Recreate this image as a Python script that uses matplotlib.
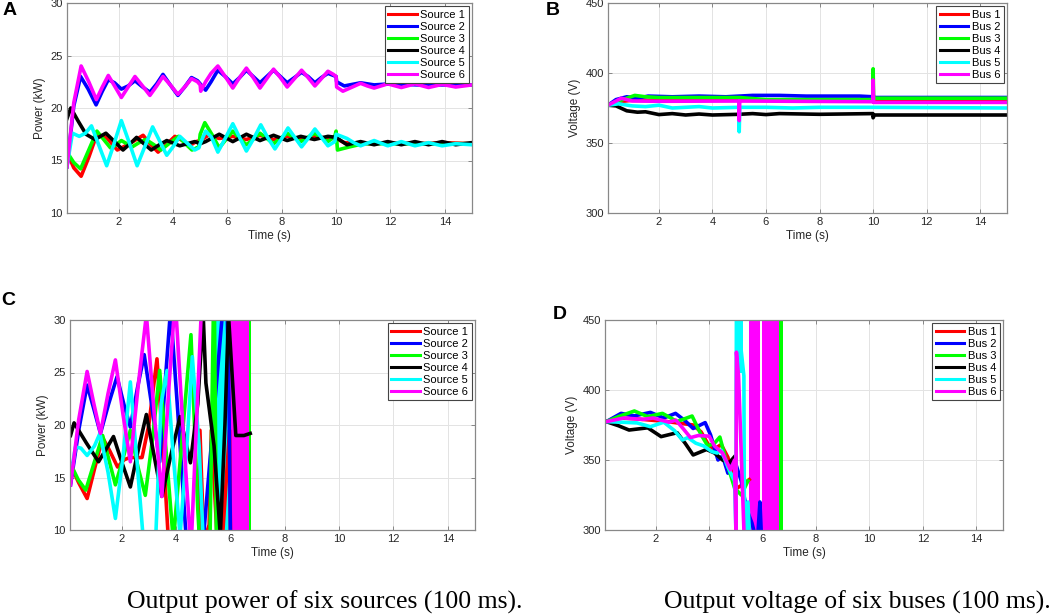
import matplotlib
matplotlib.use("Agg")
import matplotlib.pyplot as plt

plt.rcParams["font.family"] = ["Liberation Sans", "DejaVu Sans"]

# ---------------- data ----------------
colors = ["#ff0000", "#0000ff", "#00ff00", "#000000", "#00ffff", "#ff00ff"]
source_labels = ["Source 1", "Source 2", "Source 3", "Source 4", "Source 5", "Source 6"]
bus_labels = ["Bus 1", "Bus 2", "Bus 3", "Bus 4", "Bus 5", "Bus 6"]

# panel A: output power, stable case (kW)
a_t1 = [0.1, 0.35, 0.62, 0.9, 1.2, 1.55, 1.95, 2.4, 2.9, 3.15, 3.45, 3.75, 4.07, 4.35, 4.6, 4.85,
        5.0, 5.3, 5.7, 6.2, 6.7, 7.2, 7.7, 8.2, 8.7, 9.2, 9.7, 10.0, 10.3, 11.0, 12.0, 13.0, 14.0, 15.0]
a_p1 = [15.8, 14.3, 13.5, 15.3, 17.5, 17.2, 16.0, 16.6, 17.4, 16.6, 15.8, 16.5, 17.3, 16.9, 16.4, 16.8,
        16.9, 17.4, 17.1, 17.3, 17.0, 17.4, 17.0, 17.3, 17.0, 17.3, 17.1, 17.1, 16.7, 16.6, 16.7, 16.6, 16.7, 16.6]
a_t2 = [0.1, 0.35, 0.6, 0.88, 1.17, 1.4, 1.62, 1.85, 2.1, 2.35, 2.6, 2.88, 3.15, 3.4, 3.63, 3.9, 4.18,
        4.43, 4.68, 4.9, 5.0, 5.2, 5.4, 5.65, 5.92, 6.2, 6.45, 6.7, 6.95, 7.2, 7.45, 7.7, 7.95, 8.2, 8.47,
        8.73, 8.97, 9.22, 9.46, 9.7, 9.9, 10.0, 10.02, 10.3, 10.9, 11.4, 12.0, 13.0, 14.0, 15.0]
a_p2 = [14.4, 20.2, 23.0, 21.8, 20.3, 21.6, 22.7, 22.4, 21.8, 22.1, 22.6, 22.0, 21.5, 22.3, 23.2, 22.2, 21.2,
        22.0, 22.9, 22.6, 22.3, 21.7, 22.5, 23.6, 23.0, 22.3, 22.9, 23.6, 23.0, 22.4, 23.0, 23.6, 23.0, 22.4, 22.9,
        23.4, 23.0, 22.4, 22.9, 23.3, 23.1, 23.0, 22.5, 22.1, 22.4, 22.2, 22.3, 22.2, 22.2, 22.2]
a_t3 = [0.1, 0.35, 0.6, 0.9, 1.2, 1.45, 1.7, 1.9, 2.1, 2.3, 2.5, 2.75, 3.0, 3.3, 3.55, 3.85, 4.2, 4.45,
        4.7, 4.95, 5.0, 5.17, 5.45, 5.7, 5.95, 6.2, 6.45, 6.7, 6.95, 7.2, 7.45, 7.7, 7.95, 8.2, 8.45, 8.7,
        8.95, 9.2, 9.45, 9.7, 9.95, 10.0, 10.05, 10.5, 11.0, 12.0, 13.0, 14.0, 15.0]
a_p3 = [15.8, 14.8, 14.2, 16.0, 17.8, 17.0, 16.2, 16.5, 16.9, 16.6, 16.3, 16.7, 17.0, 16.5, 16.0, 16.6, 17.3, 16.6,
        16.0, 16.3, 17.5, 18.6, 17.4, 16.2, 17.0, 17.8, 17.1, 16.5, 17.0, 17.6, 17.1, 16.6, 17.1, 17.6, 17.2, 16.8,
        17.2, 17.6, 17.2, 16.8, 17.3, 17.8, 16.0, 16.3, 16.6, 16.6, 16.6, 16.6, 16.6]
a_t4 = [0.1, 0.24, 0.5, 0.8, 1.13, 1.53, 1.85, 2.16, 2.42, 2.66, 2.93, 3.2, 3.5, 3.77, 4.25, 4.8, 5.0, 5.2,
        5.7, 6.2, 6.7, 7.2, 7.7, 8.2, 8.7, 9.2, 9.7, 10.0, 10.4, 10.9, 11.4, 11.9, 12.4, 12.9, 13.4, 13.9, 14.4, 15.0]
a_p4 = [19.0, 20.0, 18.8, 17.5, 17.0, 17.6, 16.8, 16.0, 16.6, 17.2, 16.6, 16.0, 16.5, 16.9, 16.4, 16.8, 16.6, 16.8,
        17.5, 16.8, 17.5, 16.9, 17.4, 16.9, 17.3, 17.0, 17.3, 17.2, 16.5, 16.8, 16.5, 16.8, 16.5, 16.8, 16.5, 16.8, 16.5, 16.7]
a_t5 = [0.1, 0.3, 0.55, 0.78, 1.0, 1.28, 1.56, 1.83, 2.1, 2.39, 2.68, 2.96, 3.25, 3.5, 3.77, 4.0, 4.25, 4.5,
        4.8, 4.95, 5.0, 5.2, 5.42, 5.65, 5.92, 6.2, 6.45, 6.7, 6.97, 7.23, 7.48, 7.75, 8.0, 8.23, 8.48, 8.73,
        8.97, 9.22, 9.46, 9.7, 9.95, 10.0, 10.4, 10.65, 10.9, 11.4, 11.9, 12.4, 12.9, 13.4, 13.9, 14.4, 15.0]
a_p5 = [14.5, 17.6, 17.3, 17.6, 18.3, 16.4, 14.5, 16.6, 18.8, 16.7, 14.5, 16.3, 18.2, 16.9, 15.5, 16.3, 17.3, 16.7,
        16.0, 16.2, 16.6, 17.8, 17.2, 15.8, 17.1, 18.5, 17.2, 15.9, 17.1, 18.4, 17.2, 16.1, 17.1, 18.1, 17.2, 16.3,
        17.1, 18.0, 17.2, 16.4, 16.8, 17.5, 17.1, 16.7, 16.4, 16.9, 16.4, 16.8, 16.4, 16.7, 16.4, 16.6, 16.5]
a_t6 = [0.1, 0.35, 0.62, 0.9, 1.18, 1.4, 1.62, 1.85, 2.1, 2.35, 2.6, 2.88, 3.15, 3.4, 3.63, 3.9, 4.18, 4.43,
        4.68, 4.9, 5.0, 5.02, 5.2, 5.4, 5.65, 5.92, 6.2, 6.45, 6.7, 6.95, 7.2, 7.45, 7.7, 7.95, 8.2, 8.47, 8.73,
        8.97, 9.22, 9.46, 9.7, 9.9, 10.0, 10.02, 10.25, 10.6, 10.9, 11.15, 11.4, 11.65, 11.9, 12.4, 12.9, 13.4,
        13.9, 14.4, 15.0]
a_p6 = [14.4, 20.5, 24.0, 22.5, 20.8, 22.0, 23.1, 22.1, 21.0, 22.0, 23.0, 22.1, 21.2, 22.1, 23.0, 22.2, 21.3, 22.0,
        22.8, 22.5, 22.2, 21.6, 22.5, 23.3, 24.0, 23.0, 21.9, 22.9, 23.8, 22.9, 21.9, 22.8, 23.7, 22.9, 22.0, 22.8, 23.6,
        22.9, 22.1, 22.8, 23.5, 23.2, 23.0, 22.0, 21.6, 22.0, 22.35, 22.1, 21.9, 22.1, 22.3, 21.95, 22.3, 21.95,
        22.25, 22.0, 22.2]

# panel B: bus voltage, stable case (V)
b_t1 = [0.1, 0.5, 1.0, 2.0, 4.0, 6.0, 8.0, 10.0, 11.0, 15.0]
b_v1 = [377, 379.5, 380.5, 380.5, 380.5, 380.5, 380.5, 380.5, 381, 381]
b_t2 = [0.1, 0.4, 0.8, 1.2, 1.6, 2.5, 3.5, 4.5, 5.5, 6.5, 7.5, 8.5, 9.5, 10.0, 10.1, 15.0]
b_v2 = [377, 381, 383, 382, 383.5, 383, 383.5, 383, 384, 384, 383.5, 383.5, 383.5, 383, 382.5, 382.5]
b_t3 = [0.1, 0.5, 1.1, 1.5, 2.0, 5.0, 6.0, 8.0, 9.99, 10.0, 10.02, 15.0]
b_v3 = [377, 380, 384, 383, 382.5, 382.5, 381, 381, 381, 403, 382, 382]
b_t4 = [0.1, 0.4, 0.8, 1.2, 1.5, 2.0, 2.5, 3.0, 3.5, 4.0, 5.0, 5.5, 6.0, 6.5, 8.0, 9.99, 10.0, 10.05, 15.0]
b_v4 = [377, 376.5, 373, 372, 372.3, 370.3, 371, 370, 370.7, 370, 370.5, 371, 370.3, 371, 370.5, 371, 368, 370, 370]
b_t5 = [0.1, 0.5, 1.0, 1.5, 2.0, 2.5, 3.0, 3.5, 4.0, 4.99, 5.0, 5.02, 6.0, 7.0, 8.0, 10.0, 15.0]
b_v5 = [377, 378, 376.5, 376, 377, 375, 375.5, 376, 375, 375.5, 358, 375.5, 375.5, 375, 375.5, 375.5, 375]
b_t6 = [0.1, 0.6, 1.0, 2.0, 4.99, 5.0, 5.02, 9.99, 10.0, 10.02, 15.0]
b_v6 = [377, 382, 380, 379.8, 380, 366, 380, 379.5, 395, 379, 379]

# panel C: output power, unstable case (kW)
c_t1 = [0.12, 0.42, 0.73, 1.0, 1.3, 1.57, 1.85, 2.1, 2.3, 2.75, 3.0, 3.3, 3.52, 3.72, 4.2, 4.85, 4.88, 5.0,
        5.1, 5.22, 5.3, 5.6, 5.97, 6.02]
c_p1 = [16.2, 14.5, 13.0, 15.8, 18.8, 17.5, 16.0, 16.7, 16.9, 16.9, 20.0, 26.3, 18.0, 9.0, 0.0, 9.0, 19.5, 10.5,
        9.5, 10.5, 19.5, 5.0, 19.5, 5.0]
c_t2 = [0.12, 0.42, 0.73, 0.98, 1.22, 1.52, 1.83, 2.08, 2.32, 2.58, 2.83, 3.1, 3.4, 3.6, 3.8, 4.1, 4.38,
        4.7, 5.0, 5.85, 5.95, 6.0]
c_p2 = [14.3, 19.5, 23.8, 21.5, 19.2, 22.0, 24.6, 22.0, 19.8, 23.5, 26.7, 22.0, 16.5, 24.0, 31.0, 20.0, 9.0,
        2.0, 9.0, 35.0, 22.0, 10.0]
c_t3 = [0.12, 0.4, 0.68, 1.0, 1.3, 1.55, 1.77, 2.05, 2.32, 2.6, 2.87, 3.15, 3.4, 3.65, 3.9, 4.2, 4.55, 4.8,
        5.0, 5.25, 5.4, 5.5]
c_p3 = [16.3, 14.8, 13.8, 16.5, 19.0, 16.5, 14.3, 16.8, 19.5, 16.0, 13.3, 19.0, 25.2, 17.0, 9.0, 18.0, 28.6, 12.0,
        3.0, 9.0, 35.0, 5.0]
c_t4 = [0.12, 0.25, 0.7, 1.15, 1.45, 1.7, 2.0, 2.32, 2.6, 2.91, 3.2, 3.48, 3.8, 4.15, 4.53, 4.8, 5.0, 5.1,
        5.2, 5.4, 5.63, 5.8, 5.93, 6.2, 6.5, 6.73]
c_p4 = [19.0, 20.2, 18.3, 16.5, 17.8, 18.9, 16.5, 14.1, 17.5, 21.0, 17.0, 13.2, 17.0, 20.8, 16.4, 22.0, 30.5, 24.0,
        22.0, 18.0, 9.5, 20.0, 30.5, 19.0, 19.0, 19.2]
c_t5 = [0.12, 0.3, 0.5, 0.73, 1.0, 1.2, 1.5, 1.77, 2.05, 2.32, 2.55, 2.8, 3.0, 3.25, 3.45, 3.67, 3.9, 4.15,
        4.4, 4.6, 4.85, 5.0]
c_p5 = [15.0, 17.9, 17.8, 17.1, 18.0, 19.2, 15.5, 11.1, 17.0, 24.1, 17.0, 9.0, 6.0, 9.0, 22.0, 25.2, 17.0, 9.5,
        18.0, 26.5, 18.0, 9.0]
c_t6 = [0.12, 0.42, 0.73, 0.98, 1.22, 1.5, 1.77, 2.05, 2.32, 2.62, 2.91, 3.2, 3.48, 3.75, 3.97, 4.25, 4.55,
        4.75, 4.95]
c_p6 = [14.3, 20.5, 25.1, 22.0, 19.2, 23.0, 26.2, 21.0, 16.5, 24.0, 30.5, 21.0, 13.2, 24.0, 32.0, 20.0, 8.0,
        20.0, 32.0]
# time spans where the unstable traces oscillate too fast to resolve (series index, start, end)
c_bands = [(4, 5.45, 6.0), (2, 6.65, 6.75), (5, 6.0, 6.67)]

# panel D: bus voltage, unstable case (V)
d_t1 = [0.15, 0.6, 1.2, 1.8, 2.4, 3.0, 3.4, 3.7, 4.0, 4.2, 4.45, 4.7, 4.95, 5.05, 5.3, 5.5]
d_v1 = [377.4, 380, 379.5, 378.5, 377.5, 376, 375, 370, 360, 358, 361, 352, 333, 330, 333, 336]
d_t2 = [0.15, 0.7, 1.2, 1.8, 2.3, 2.74, 3.1, 3.4, 3.85, 4.05, 4.33, 4.5, 4.7, 4.95, 5.2, 5.4, 5.6, 5.8,
        5.9, 5.95]
d_v2 = [377.4, 383.3, 381.5, 384, 380, 383.3, 378, 372.5, 376.7, 368, 350, 353, 340.6, 350, 335, 315, 305, 290,
        320, 298]
d_t3 = [0.15, 0.6, 1.2, 1.7, 2.25, 2.8, 3.36, 3.7, 3.95, 4.2, 4.4, 4.6, 4.95, 5.2, 5.45]
d_v3 = [377.4, 381, 385, 381, 383.3, 377.5, 381.4, 368, 360, 362, 366.4, 352, 330, 325, 335]
d_t4 = [0.15, 0.6, 1.0, 1.7, 2.2, 2.8, 3.1, 3.4, 3.9, 4.2, 4.5, 4.75, 4.95]
d_v4 = [377.4, 374.5, 371.4, 373, 366.7, 369.5, 362, 353.6, 357.5, 355, 350, 348, 352.4]
d_t5 = [0.15, 0.7, 1.3, 1.8, 2.3, 2.7, 3.0, 3.2, 3.5, 3.8, 4.1, 4.3, 4.45, 4.7, 4.95, 5.0, 5.02, 5.3,
        5.32, 5.45, 5.5]
d_v5 = [377.4, 377, 376.5, 373.8, 377, 371, 364.3, 366, 362, 360, 356, 355, 357, 345, 335, 300, 460, 410,
        290, 320, 300]
d_t6 = [0.15, 0.8, 1.5, 1.9, 2.5, 2.75, 3.0, 3.3, 3.6, 4.0, 4.2, 4.5, 4.8, 4.95, 5.0, 5.02, 5.1, 5.3]
d_v6 = [377.4, 380, 379, 380, 377, 378.5, 373, 366, 367.5, 367, 360, 355, 343, 350, 300, 427, 410, 300]
d_bands = [(4, 5.02, 5.28, 412), (5, 5.5, 5.9, 300), (2, 6.63, 6.75, 300), (5, 5.97, 6.63, 300)]

captions = ["Output power of six sources (100 ms).", "Output voltage of six buses (100 ms)."]

# ---------------- drawing ----------------
fig = plt.figure(figsize=(10.52, 6.15), dpi=100)

W, H = 1052, 615


def make_axes(left, top, right, bottom):
    return fig.add_axes([left / W, 1 - bottom / H, (right - left) / W, (bottom - top) / H])


def style(ax, ylim, yticks, ylabel, labels):
    ax.set_xlim(0.1, 15)
    ax.set_ylim(*ylim)
    ax.set_xticks(range(2, 15, 2))
    ax.set_yticks(yticks)
    ax.grid(True, color="#e3e3e3", lw=0.7)
    ax.set_axisbelow(True)
    ax.tick_params(direction="in", top=True, right=True, length=3, width=0.6,
                   labelsize=8, color="#777777", labelcolor="#262626", pad=3)
    for s in ax.spines.values():
        s.set_color("#888888")
        s.set_linewidth(0.9)
    ax.set_xlabel("Time (s)", fontsize=8.5, color="#262626", labelpad=2)
    ax.set_ylabel(ylabel, fontsize=8.5, color="#262626", labelpad=3)
    handles = [plt.Line2D([], [], color=c, lw=2.2) for c in colors]
    leg = ax.legend(handles, labels, loc="upper right", fontsize=8, fancybox=False,
                    framealpha=1, edgecolor="#444444", handlelength=2.6, handletextpad=0.3,
                    labelspacing=0.18, borderpad=0.3, borderaxespad=0.3)
    leg.get_frame().set_linewidth(0.8)


lw = 2.6

axA = make_axes(67, 3, 472, 213)
for t, p, c in zip([a_t1, a_t2, a_t3, a_t4, a_t5, a_t6], [a_p1, a_p2, a_p3, a_p4, a_p5, a_p6], colors):
    axA.plot(t, p, color=c, lw=lw, solid_joinstyle="round")
style(axA, (10, 30), [10, 15, 20, 25, 30], "Power (kW)", source_labels)

axB = make_axes(608, 3, 1007, 213)
for t, v, c in zip([b_t1, b_t2, b_t3, b_t4, b_t5, b_t6], [b_v1, b_v2, b_v3, b_v4, b_v5, b_v6], colors):
    axB.plot(t, v, color=c, lw=lw, solid_joinstyle="round")
style(axB, (300, 450), [300, 350, 400, 450], "Voltage (V)", bus_labels)

axC = make_axes(70, 320, 475, 530)
for t, p, c in zip([c_t1, c_t2, c_t3, c_t4, c_t5, c_t6], [c_p1, c_p2, c_p3, c_p4, c_p5, c_p6], colors):
    axC.plot(t, p, color=c, lw=lw, solid_joinstyle="round")
for i, t0, t1 in c_bands:
    axC.fill_between([t0, t1], [10, 10], [30, 30], color=colors[i], lw=0)
style(axC, (10, 30), [10, 15, 20, 25, 30], "Power (kW)", source_labels)

axD = make_axes(605, 320, 1003, 530)
for t, v, c in zip([d_t1, d_t2, d_t3, d_t4, d_t5, d_t6], [d_v1, d_v2, d_v3, d_v4, d_v5, d_v6], colors):
    axD.plot(t, v, color=c, lw=lw, solid_joinstyle="round")
for i, t0, t1, lo in d_bands:
    axD.fill_between([t0, t1], [lo, lo], [450, 450], color=colors[i], lw=0)
style(axD, (300, 450), [300, 350, 400, 450], "Voltage (V)", bus_labels)

for x, y, s in [(3, 2, "A"), (546, 2, "B"), (1, 292, "C"), (553, 306, "D")]:
    fig.text(x / W, 1 - y / H, s, ha="left", va="top", fontsize=14, fontweight="bold")

fig.text(325 / W, 1 - 602 / H, captions[0], ha="center", va="center", fontsize=18.5,
         family="Liberation Serif")
fig.text(857 / W, 1 - 602 / H, captions[1], ha="center", va="center", fontsize=18.5,
         family="Liberation Serif")

fig.savefig("out.png", dpi=100)
